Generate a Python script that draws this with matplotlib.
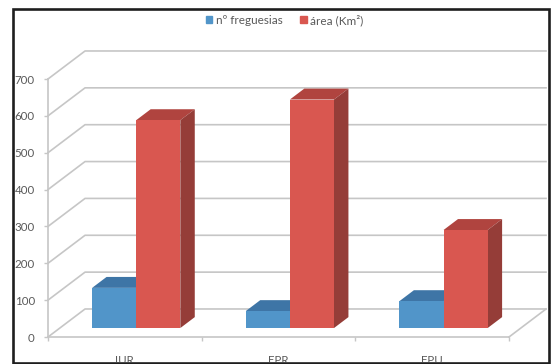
import matplotlib
matplotlib.use('Agg')
import matplotlib.pyplot as plt
from matplotlib.patches import Patch, Rectangle
from matplotlib.transforms import Bbox

plt.rcParams['font.family'] = ['Lato', 'DejaVu Sans']

categories = ['IUR', 'EPR', 'FPU']
n_freguesias = [109, 46, 73]
area_km2 = [564, 620, 266]
y_ticks = [0, 100, 200, 300, 400, 500, 600, 700]

BLUE = ('#5195c9', '#3e75a6', '#3e75a6')
RED = ('#d95750', '#b0443f', '#953d38')
GRID = '#c6c6c6'
TEXT = '#595959'

# oblique offset of the back wall, in data units
DEPTH_X = 0.241
DEPTH_Y = 76
BAR_WIDTH = 0.287
BAR_FRONT = 0.32
BAR_DEPTH = 0.39


def bar3d(ax, left, value, colors):
    """Front face from ax.bar, top and side faces sheared behind it"""
    x0 = left + BAR_FRONT * DEPTH_X
    y0 = BAR_FRONT * DEPTH_Y
    dx = BAR_DEPTH * DEPTH_X
    dy = BAR_DEPTH * DEPTH_Y
    x1 = x0 + BAR_WIDTH
    y1 = y0 + value
    ax.fill([x0, x1, x1 + dx, x0 + dx], [y1, y1, y1 + dy, y1 + dy],
            color=colors[1], lw=0, clip_on=False, zorder=3)
    ax.fill([x1, x1 + dx, x1 + dx, x1], [y0, y0 + dy, y1 + dy, y1],
            color=colors[2], lw=0, clip_on=False, zorder=3)
    ax.bar(x0, value, BAR_WIDTH, bottom=y0, align='edge',
           color=colors[0], lw=0, clip_on=False, zorder=3)


fig = plt.figure(figsize=(5.54, 3.64), dpi=100)
ax = fig.add_axes([48 / 554, 27 / 364, 461 / 554, 258 / 364])
ax.set_xlim(0, 3)
ax.set_ylim(0, 700)
ax.patch.set_visible(False)

for s in ['top', 'right']:
    ax.spines[s].set_visible(False)
for s in ['left', 'bottom']:
    ax.spines[s].set_color(GRID)
    ax.spines[s].set_linewidth(1.2)

# walls and floor
for v in y_ticks:
    ax.plot([0, DEPTH_X, 3 + DEPTH_X], [v, v + DEPTH_Y, v + DEPTH_Y],
            color=GRID, lw=1.2, clip_on=False, zorder=1)
ax.plot([3, 3 + DEPTH_X], [0, DEPTH_Y], color=GRID, lw=1.2,
        clip_on=False, zorder=1)

# blue first so the red bar covers the side of it
for i in range(len(categories)):
    bar3d(ax, i + 0.21, n_freguesias[i], BLUE)
    bar3d(ax, i + 0.21 + BAR_WIDTH, area_km2[i], RED)

ax.set_yticks(y_ticks)
ax.tick_params(axis='y', length=3, width=1, color=GRID, labelcolor=TEXT,
               labelsize=8.3, pad=6.5)
ax.set_xticks([0, 1, 2, 3])
ax.set_xticklabels([])
ax.set_xticks([0.5, 1.5, 2.5], minor=True)
ax.set_xticklabels(categories, minor=True)
ax.tick_params(axis='x', which='major', length=3, width=1, color=GRID)
ax.tick_params(axis='x', which='minor', length=0, labelcolor=TEXT,
               labelsize=8.3, pad=13)

# outer frame, the bottom labels get cut off by it
fig.add_artist(Rectangle((12.5 / 554, 1.5 / 364), 536.5 / 554, 354 / 364,
                         transform=fig.transFigure, fill=False,
                         ec='#1e1e1e', lw=1.9))
inside = Bbox([[13, 2.5], [548, 355]])
for label in ax.get_xticklabels(minor=True):
    label.set_clip_box(inside)
    label.set_clip_on(True)

handles = [Patch(color=BLUE[0], label='nº freguesias'),
           Patch(color=RED[0], label='área (Km²)')]
fig.legend(handles=handles, ncol=2, loc='center', bbox_to_anchor=(0.5135, 0.945),
           frameon=False, fontsize=8.5, labelcolor=TEXT, handlelength=0.55,
           handleheight=0.55, handletextpad=0.3, columnspacing=1.5)

fig.savefig('out.png', dpi=100)
